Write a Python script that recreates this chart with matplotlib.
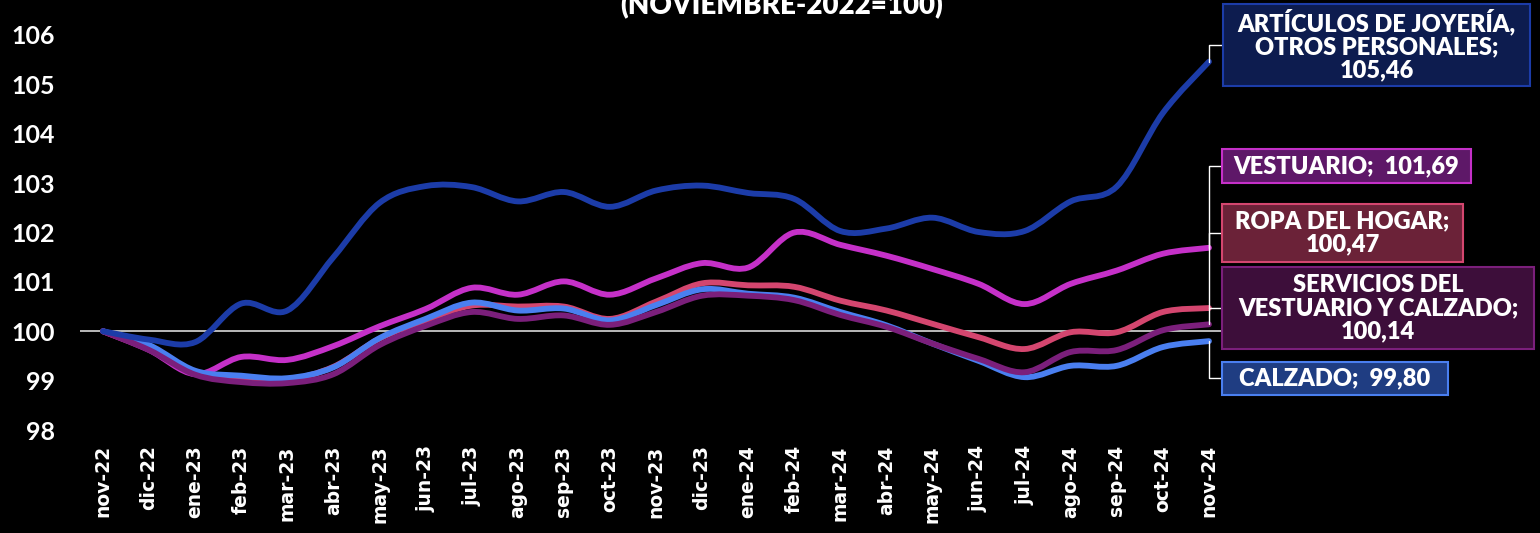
import numpy as np
import matplotlib
matplotlib.use("Agg")
import matplotlib.pyplot as plt
from matplotlib.path import Path
from matplotlib.patches import PathPatch, Rectangle

# --- data ---
months = ['nov-22', 'dic-22', 'ene-23', 'feb-23', 'mar-23', 'abr-23', 'may-23',
          'jun-23', 'jul-23', 'ago-23', 'sep-23', 'oct-23', 'nov-23', 'dic-23',
          'ene-24', 'feb-24', 'mar-24', 'abr-24', 'may-24', 'jun-24', 'jul-24',
          'ago-24', 'sep-24', 'oct-24', 'nov-24']

joyeria = [100.00, 99.83, 99.78, 100.56, 100.42, 101.50, 102.60, 102.94, 102.92,
           102.63, 102.82, 102.52, 102.85, 102.95, 102.80, 102.68, 102.03, 102.08,
           102.30, 102.01, 102.03, 102.63, 102.93, 104.42, 105.46]
vestuario = [100.00, 99.62, 99.13, 99.48, 99.42, 99.70, 100.10, 100.45, 100.88,
             100.74, 101.01, 100.74, 101.07, 101.38, 101.29, 102.00, 101.75, 101.53,
             101.26, 100.96, 100.55, 100.96, 101.23, 101.57, 101.69]
ropa = [100.00, 99.64, 99.18, 99.05, 99.02, 99.28, 99.85, 100.22, 100.52, 100.50,
        100.50, 100.25, 100.60, 100.97, 100.93, 100.90, 100.62, 100.42, 100.15,
        99.88, 99.64, 99.98, 99.98, 100.39, 100.47]
servicios = [100.00, 99.62, 99.12, 98.97, 98.95, 99.13, 99.72, 100.11, 100.39,
             100.25, 100.32, 100.13, 100.39, 100.72, 100.72, 100.63, 100.33, 100.09,
             99.75, 99.44, 99.17, 99.58, 99.62, 100.02, 100.14]
calzado = [100.00, 99.72, 99.20, 99.10, 99.05, 99.27, 99.86, 100.25, 100.58,
           100.42, 100.46, 100.22, 100.53, 100.85, 100.76, 100.68, 100.39, 100.12,
           99.75, 99.40, 99.07, 99.30, 99.30, 99.68, 99.80]

# drawing order: first is bottom
series = [
    ("VESTUARIO;", vestuario, '#c530c8', '#5e1868'),
    ("ROPA DEL HOGAR;\n", ropa, '#d4466f', '#6b2238'),
    ("CALZADO;", calzado, '#4a7ff0', '#1f3d82'),
    ("SERVICIOS DEL\nVESTUARIO Y CALZADO;\n", servicios, '#7b1f7b', '#3d0e3a'),
    ("ARTÍCULOS DE JOYERÍA,\nOTROS PERSONALES;\n", joyeria, '#1c3ca8', '#0d1c4f'),
]

# label boxes in pixels from top-left: x0, x1, y0, y1, leader y
boxes = {
    "VESTUARIO;": (1222, 1471, 149, 183, 166),
    "ROPA DEL HOGAR;\n": (1222, 1463, 204, 262, 233),
    "CALZADO;": (1222, 1448, 362, 395, 378),
    "SERVICIOS DEL\nVESTUARIO Y CALZADO;\n": (1222, 1534, 267, 349, 308),
    "ARTÍCULOS DE JOYERÍA,\nOTROS PERSONALES;\n": (1223, 1530, 4, 86, 45),
}

W, H = 1540, 533


def smooth_path(xs, ys):
    # excel-like smoothed line (catmull-rom as cubic bezier)
    pts = np.column_stack([xs, ys]).astype(float)
    n = len(pts)
    verts = [pts[0]]
    codes = [Path.MOVETO]
    for i in range(n - 1):
        p0 = pts[max(i - 1, 0)]
        p1 = pts[i]
        p2 = pts[i + 1]
        p3 = pts[min(i + 2, n - 1)]
        verts += [p1 + (p2 - p0) / 6, p2 - (p3 - p1) / 6, p2]
        codes += [Path.CURVE4] * 3
    return Path(verts, codes)


fig = plt.figure(figsize=(W / 100, H / 100), dpi=100, facecolor='black')
ax = fig.add_axes([80 / W, 1 - 430 / H, (1232 - 80) / W, (430 - 35) / H])
ax.set_facecolor('black')

x = np.arange(len(months))
ax.axhline(100, color='#d9d9d9', lw=1.2, zorder=1)

for i, (name, vals, col, fill) in enumerate(series):
    ax.add_patch(PathPatch(smooth_path(x, vals), fill=False, edgecolor=col,
                           lw=4.2, capstyle='round', joinstyle='round', zorder=2 + i))

ax.set_xlim(-0.5, len(months) - 0.5)
ax.set_ylim(98, 106)
ax.set_yticks(range(98, 107))
ax.set_xticks(x)
ax.set_xticklabels(months, rotation=90, fontsize=13.5, fontweight='bold',
                   color='white', family='DejaVu Sans', va='top', ha='center')
ax.set_yticklabels([str(v) for v in range(98, 107)], fontsize=18, fontweight='bold',
                   color='white', family=['Lato', 'DejaVu Sans'])
ax.tick_params(axis='x', length=0, pad=11)
ax.tick_params(axis='y', length=0, pad=18)
for s in ax.spines.values():
    s.set_visible(False)

# labels with leader lines
for name, vals, col, fill in series:
    x0, x1, y0, y1, ly = boxes[name]
    fig.add_artist(Rectangle((x0 / W, 1 - y1 / H), (x1 - x0) / W, (y1 - y0) / H,
                             transform=fig.transFigure, facecolor=fill,
                             edgecolor=col, lw=1.5, zorder=10))
    val = f"{vals[-1]:.2f}".replace('.', ',')
    txt = name + val if name.endswith('\n') else name + "  " + val
    fig.text((x0 + x1) / 2 / W, 1 - (y0 + y1) / 2 / H, txt, ha='center', va='center',
             fontsize=17, fontweight='heavy', color='white', family=['Lato', 'DejaVu Sans'],
             linespacing=1.05, zorder=11)
    ax.annotate('', xy=(x[-1], vals[-1]), xytext=(x0, H - ly), textcoords='figure pixels',
                arrowprops=dict(arrowstyle='-', color='white', lw=1.0, shrinkA=0, shrinkB=0,
                                connectionstyle='angle,angleA=0,angleB=90,rad=0'),
                annotation_clip=False, zorder=9)

fig.text(782 / W, 1 - 14 / H, "(NOVIEMBRE-2022=100)", ha='center', va='baseline',
         fontsize=20, fontweight='heavy', color='white', family=['Lato', 'DejaVu Sans'])

fig.savefig('out.png', dpi=100, facecolor='black')
